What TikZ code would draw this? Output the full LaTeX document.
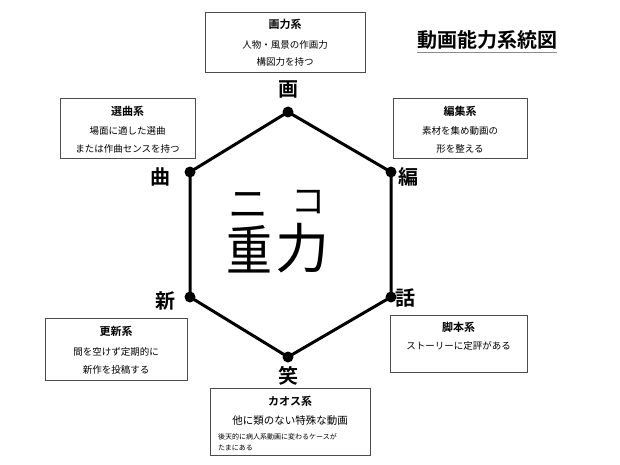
\documentclass[tikz,border=0pt]{standalone}
\usepackage{fontspec}
\setmainfont{Noto Sans CJK JP}
\newfontfamily\jpb{Noto Sans CJK JP Bold}
\begin{document}
\begin{tikzpicture}[x=1pt,y=-1pt,
  infobox/.style={draw=black!70,line width=0.9pt,fill=white},
  boxtitle/.style={font=\jpb\fontsize{11}{13}\selectfont,inner sep=0pt},
  boxtext/.style={font=\fontsize{9.5}{11}\selectfont,inner sep=0pt},
  vlabel/.style={font=\jpb\fontsize{20}{22}\selectfont,inner sep=0pt},
  hexline/.style={line width=3pt},
  vdot/.style={circle,fill=black,inner sep=0pt,minimum size=11pt},
  center/.style={inner sep=0pt}]
\useasboundingbox (0,0) rectangle (620,465);
% hexagon vertices
\node[vdot] (v1) at (288,112) {};
\node[vdot] (v2) at (391,172) {};
\node[vdot] (v3) at (391,297) {};
\node[vdot] (v4) at (288,357) {};
\node[vdot] (v5) at (190,297) {};
\node[vdot] (v6) at (190,172) {};
\draw[hexline,line join=round] (v1.center) -- (v2.center) -- (v3.center) -- (v4.center) -- (v5.center) -- (v6.center) -- cycle;
% vertex labels
\node[vlabel] (l1) at (288,90) {画};
\node[vlabel] (l2) at (408,177) {編};
\node[vlabel] (l3) at (405,298) {話};
\node[vlabel] (l4) at (288,376) {笑};
\node[vlabel] (l5) at (165,301) {新};
\node[vlabel] (l6) at (160,177) {曲};
% title
\node[font=\jpb\fontsize{20}{22}\selectfont,inner sep=0pt] (title) at (487,40) {動画能力系統図};
\draw[black!45,line width=1.2pt] (title.south west) ++(0,3) coordinate (tl) -- (tl -| title.south east);
% center glyph
\node[center,font=\fontsize{40}{40}\selectfont] (c1) at (248,205) {ニ};
\node[center,font=\fontsize{34}{34}\selectfont] (c2) at (308,202) {コ};
\node[center,font=\fontsize{54}{54}\selectfont,xscale=0.85] (c3) at (249,249) {重};
\node[center,font=\fontsize{54}{54}\selectfont] (c4) at (302,248) {力};
% boxes
\node[infobox,minimum width=160pt,minimum height=60pt] (b1) at (285,42) {};
\node[boxtitle] at (285,24) {画力系};
\node[boxtext] at (285,45) {人物・風景の作画力};
\node[boxtext] at (285,62) {構図力を持つ};

\node[infobox,minimum width=135pt,minimum height=60pt] (b6) at (127.5,128) {};
\node[boxtitle] at (127.5,111) {選曲系};
\node[boxtext] at (127.5,131) {場面に適した選曲};
\node[boxtext] at (127.5,149) {または作曲センスを持つ};

\node[infobox,minimum width=134pt,minimum height=60pt] (b2) at (460,128) {};
\node[boxtitle] at (460,111) {編集系};
\node[boxtext] at (460,131) {素材を集め動画の};
\node[boxtext] at (460,149) {形を整える};

\node[infobox,minimum width=142pt,minimum height=62pt] (b5) at (116,349) {};
\node[boxtitle] at (116,331) {更新系};
\node[boxtext] at (116,352) {間を空けず定期的に};
\node[boxtext] at (116,370) {新作を投稿する};

\node[infobox,minimum width=137pt,minimum height=57pt] (b3) at (458.5,343.5) {};
\node[boxtitle] at (458.5,327) {脚本系};
\node[boxtext] at (458.5,346) {ストーリーに定評がある};

\node[infobox,minimum width=160pt,minimum height=67pt] (b4) at (290,421.5) {};
\node[boxtitle] at (290,401) {カオス系};
\node[boxtext,font=\fontsize{10.5}{12}\selectfont] at (290,421) {他に類のない特殊な動画};
\node[boxtext,font=\fontsize{7}{9}\selectfont,anchor=west] at (218,437) {後天的に病人系動画に変わるケースが};
\node[boxtext,font=\fontsize{7}{9}\selectfont,anchor=west] at (218,448) {たまにある};
\end{tikzpicture}
\end{document}
